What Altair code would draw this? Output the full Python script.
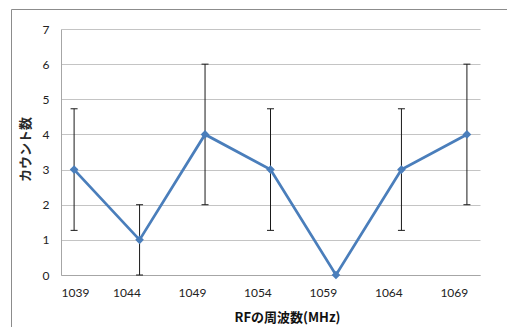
import altair as alt
import pandas as pd

freq = [1040, 1045, 1050, 1055, 1060, 1065, 1070]
counts = [3, 1, 4, 3, 0, 3, 4]
err = [1.73, 1.0, 2.0, 1.73, 0.0, 1.73, 2.0]
x_ticks = [1039, 1044, 1049, 1054, 1059, 1064, 1069]
y_ticks = [0, 1, 2, 3, 4, 5, 6, 7]

df = pd.DataFrame({"freq": freq, "count": counts, "err": err})
df["lo"] = df["count"] - df["err"]
df["hi"] = df["count"] + df["err"]

xs = alt.Scale(domain=[1039, 1071], nice=False, zero=False)
ys = alt.Scale(domain=[0, 7], nice=False)

xax = alt.Axis(values=x_ticks, title="RFの周波数(MHz)", grid=False, ticks=False,
               format="d", labelPadding=12, titleX=226, titleY=42,
               labelOverlap=False,
               titleBaseline="middle", titleFont="Noto Sans CJK JP",
               titleFontWeight="bold", titleFontSize=13)
yax = alt.Axis(values=y_ticks, title="カウント数", grid=True, ticks=False,
               format="d", labelPadding=12, titleX=-36, titleY=120,
               labelOverlap=False,
               titleAngle=-90, titleBaseline="middle", titleAlign="center",
               titleFont="Noto Sans CJK JP", titleFontWeight="bold",
               titleFontSize=13, titleColor="#2a2a2a")

X = lambda f: alt.X(f, type="quantitative", scale=xs, axis=xax, title="RFの周波数(MHz)")
Y = lambda f: alt.Y(f, type="quantitative", scale=ys, axis=yax, title="カウント数")

base = alt.Chart(df)
ebase = base.transform_filter("datum.err > 0")

frame = alt.Chart(alt.Data(values=[{"a": 1}])).mark_rect(
    filled=False, stroke="#8c8c8c", strokeWidth=1
).encode(x=alt.value(-49.5), x2=alt.value(700), y=alt.value(-19.5), y2=alt.value(500))

rules = ebase.mark_rule(color="#1a1a1a", strokeWidth=1).encode(
    x=X("freq"), y=Y("lo"), y2="hi:Q",
)
caps_hi = ebase.mark_tick(
    orient="horizontal", color="#1a1a1a", size=7, thickness=1, opacity=1
).encode(x=X("freq"), y=Y("hi"))
caps_lo = ebase.mark_tick(
    orient="horizontal", color="#1a1a1a", size=7, thickness=1, opacity=1
).encode(x=X("freq"), y=Y("lo"))

line = base.mark_line(color="#4a7ebb", strokeWidth=2.75).encode(
    x=X("freq"), y=Y("count")
)
pts = base.mark_point(shape="diamond", filled=True, size=75, color="#4a7ebb", opacity=1).encode(
    x=X("freq"), y=Y("count")
)

chart = alt.layer(frame, rules, caps_hi, caps_lo, line, pts).properties(
    width=419, height=246,
    padding={"left": 61, "top": 29, "right": 27, "bottom": 52},
    autosize=alt.AutoSizeParams(type="none"),
    background="white",
).configure_view(stroke=None).configure_axis(
    labelFont="Lato", labelFontSize=12, labelColor="#222222",
    domainColor="#a6a6a6", domainWidth=1, gridColor="#c4c4c4", gridWidth=1,
    titleColor="#111111",
)

chart.save("out.html", embed_options={"renderer": "svg", "actions": False})
